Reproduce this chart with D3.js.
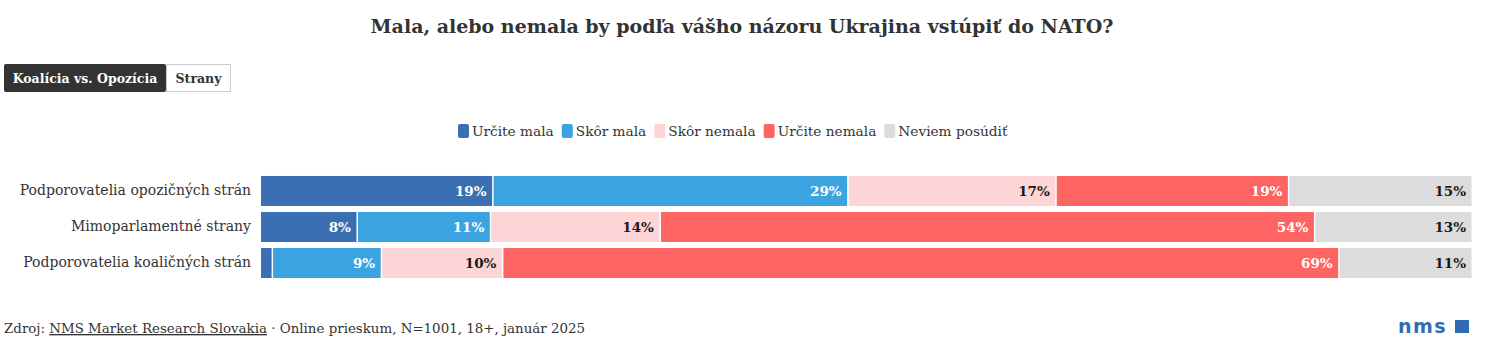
<!DOCTYPE html>
<html>
<head>
<meta charset="utf-8">
<script src="https://cdn.jsdelivr.net/npm/d3@7"></script>
<style>
  body { margin: 0; background: #fff; }
  svg { display: block; font-family: "DejaVu Serif", serif; }
</style>
</head>
<body>
<div id="chart"></div>
<script>
/* Mala, alebo nemala by Ukrajina vstúpiť do NATO - stacked bars */

const categories = ["Podporovatelia opozičných strán", "Mimoparlamentné strany", "Podporovatelia koaličných strán"];
const seriesNames = ["Určite mala", "Skôr mala", "Skôr nemala", "Určite nemala", "Neviem posúdiť"];
const urciteMala = [19, 8, 1];
const skorMala = [29, 11, 9];
const skorNemala = [17, 14, 10];
const urciteNemala = [19, 54, 69];
const neviem = [15, 13, 11];

const colors = ["#3a70b1", "#3ba3e0", "#fdd5d6", "#fe6461", "#dcdcdc"];
const labelColors = ["#fff", "#fff", "#1a1a1a", "#fff", "#1a1a1a"];

const seriesValues = [urciteMala, skorMala, skorNemala, urciteNemala, neviem];

/* one row object per category, e.g. {cat, s0, s1, ...} */
const data = categories.map((c, i) => {
    const row = { cat: c };
    seriesValues.forEach((vals, j) => row["s" + j] = vals[i]);
    row.total = d3.sum(seriesValues, vals => vals[i]);
    return row;
});

const width = 1493,
      height = 353,
      margin = ({ top: 176, right: 20, bottom: 75, left: 261 });

let svg = d3.select("#chart")
    .append("svg")
    .attr("width", width)
    .attr("height", height)
    .attr("viewBox", [0, 0, width, height]);

/* title */
svg.append("text")
    .attr("x", 742)
    .attr("y", 33)
    .attr("text-anchor", "middle")
    .style("font-size", "19px")
    .style("font-weight", "bold")
    .style("fill", "#333")
    .text("Mala, alebo nemala by podľa vášho názoru Ukrajina vstúpiť do NATO?");

/* toggle buttons */
const buttons = svg.append("g").style("font-size", "12.5px").style("font-weight", "bold");
buttons.append("rect").attr("x", 4).attr("y", 64).attr("width", 162).attr("height", 28).attr("rx", 2).attr("fill", "#333");
buttons.append("text").attr("x", 85).attr("y", 82.5).attr("text-anchor", "middle").style("fill", "#fff").text("Koalícia vs. Opozícia");
buttons.append("rect").attr("x", 166.5).attr("y", 64.5).attr("width", 64).attr("height", 27).attr("fill", "#fff").attr("stroke", "#ccc");
buttons.append("text").attr("x", 198.5).attr("y", 82.5).attr("text-anchor", "middle").style("fill", "#333").text("Strany");

/* scales */
const y = d3.scaleBand()
    .domain(categories)
    .range([margin.top - 3, height - margin.bottom + 3])
    .paddingInner(0.167)
    .paddingOuter(0.083);

const x = d3.scaleLinear()
    .domain([0, 1])
    .range([margin.left, width - margin.right]);

const keys = seriesNames.map((d, j) => "s" + j);
const normalized = data.map(d => {
    const r = { cat: d.cat };
    keys.forEach(k => r[k] = d[k] / d.total);
    return r;
});
const stacked = d3.stack().keys(keys)(normalized);

/* y axis labels */
svg.append("g")
    .attr("transform", `translate(${margin.left - 10}, 0)`)
    .call(d3.axisLeft(y).tickSize(0).tickPadding(0))
    .call(g => g.select(".domain").remove())
    .call(g => g.selectAll("text")
        .style("font-family", "DejaVu Serif, serif")
        .style("font-size", "14px")
        .style("fill", "#333"));

/* bars */
let layer = svg.selectAll(".layer")
    .data(stacked)
    .join("g")
    .attr("class", "layer")
    .attr("fill", (d, i) => colors[i]);

layer.selectAll("rect")
    .data(d => d)
    .join("rect")
    .attr("x", d => x(d[0]))
    .attr("y", d => y(d.data.cat))
    .attr("width", d => Math.max(0, x(d[1]) - x(d[0]) - 1.5))
    .attr("height", y.bandwidth());

/* value labels, right aligned inside segment */
stacked.forEach((s, i) => {
    svg.append("g")
        .selectAll("text")
        .data(s.filter(d => x(d[1]) - x(d[0]) > 40).map(d => ({ d, v: seriesValues[i][categories.indexOf(d.data.cat)] })))
        .join("text")
        .attr("x", e => x(e.d[1]) - 7)
        .attr("y", e => y(e.d.data.cat) + y.bandwidth() / 2 + 5)
        .attr("text-anchor", "end")
        .style("font-size", "13.5px")
        .style("font-weight", "bold")
        .style("fill", labelColors[i])
        .text(e => e.v + "%");
});

/* legend */
const legend = svg.append("g").style("font-size", "13.7px");
let lx = 0;
const lg = legend.selectAll("g")
    .data(seriesNames)
    .join("g");
lg.append("rect")
    .attr("width", 11).attr("height", 14).attr("rx", 2).attr("y", -12)
    .attr("fill", (d, i) => colors[i]);
lg.append("text")
    .attr("x", 14)
    .style("fill", "#333")
    .text(d => d);
lg.each(function () {
    const w = this.getBBox().width;
    d3.select(this).attr("transform", `translate(${lx}, 136)`);
    lx += w + 8;
});
legend.attr("transform", `translate(458, 0)`);

/* footer */
const foot = svg.append("text")
    .attr("x", 4)
    .attr("y", 333)
    .style("font-size", "13.4px")
    .style("fill", "#333");
foot.append("tspan").text("Zdroj: ");
foot.append("tspan").style("text-decoration", "underline").text("NMS Market Research Slovakia");
foot.append("tspan").text(" · Online prieskum, N=1001, 18+, január 2025");

/* logo */
svg.append("text")
    .attr("x", 1398)
    .attr("y", 333)
    .style("font-family", "DejaVu Sans, sans-serif")
    .style("font-size", "19px")
    .style("font-weight", "bold")
    .style("letter-spacing", "1.5px")
    .style("fill", "#2f6cb5")
    .text("nms");
svg.append("rect")
    .attr("x", 1455).attr("y", 320).attr("width", 14).attr("height", 13)
    .attr("fill", "#2f6cb5");
</script>
</body>
</html>
